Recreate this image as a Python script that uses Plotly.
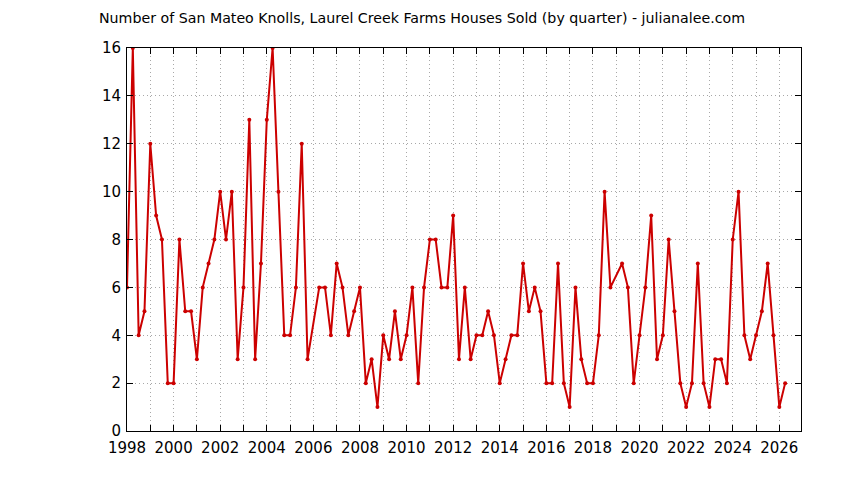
import plotly.graph_objects as go

# quarter start as decimal year (2006.0 and 2019.0 have no sales record)
quarters = [
    1998.0, 1998.25, 1998.5, 1998.75, 1999.0, 1999.25, 1999.5, 1999.75,
    2000.0, 2000.25, 2000.5, 2000.75, 2001.0, 2001.25, 2001.5, 2001.75,
    2002.0, 2002.25, 2002.5, 2002.75, 2003.0, 2003.25, 2003.5, 2003.75,
    2004.0, 2004.25, 2004.5, 2004.75, 2005.0, 2005.25, 2005.5, 2005.75,
    2006.25, 2006.5, 2006.75,
    2007.0, 2007.25, 2007.5, 2007.75, 2008.0, 2008.25, 2008.5, 2008.75,
    2009.0, 2009.25, 2009.5, 2009.75, 2010.0, 2010.25, 2010.5, 2010.75,
    2011.0, 2011.25, 2011.5, 2011.75, 2012.0, 2012.25, 2012.5, 2012.75,
    2013.0, 2013.25, 2013.5, 2013.75, 2014.0, 2014.25, 2014.5, 2014.75,
    2015.0, 2015.25, 2015.5, 2015.75, 2016.0, 2016.25, 2016.5, 2016.75,
    2017.0, 2017.25, 2017.5, 2017.75, 2018.0, 2018.25, 2018.5, 2018.75,
    2019.25, 2019.5, 2019.75,
    2020.0, 2020.25, 2020.5, 2020.75, 2021.0, 2021.25, 2021.5, 2021.75,
    2022.0, 2022.25, 2022.5, 2022.75, 2023.0, 2023.25, 2023.5, 2023.75,
    2024.0, 2024.25, 2024.5, 2024.75, 2025.0, 2025.25, 2025.5, 2025.75,
    2026.0, 2026.25,
]
sold = [
    6, 16, 4, 5, 12, 9, 8, 2,
    2, 8, 5, 5, 3, 6, 7, 8,
    10, 8, 10, 3, 6, 13, 3, 7,
    13, 16, 10, 4, 4, 6, 12, 3,
    6, 6, 4,
    7, 6, 4, 5, 6, 2, 3, 1,
    4, 3, 5, 3, 4, 6, 2, 6,
    8, 8, 6, 6, 9, 3, 6, 3,
    4, 4, 5, 4, 2, 3, 4, 4,
    7, 5, 6, 5, 2, 2, 7, 2,
    1, 6, 3, 2, 2, 4, 10, 6,
    7, 6, 2,
    4, 6, 9, 3, 4, 8, 5, 2,
    1, 2, 7, 2, 1, 3, 3, 2,
    8, 10, 4, 3, 4, 5, 7, 4,
    1, 2,
]
year_ticks = list(range(1998, 2027, 2))

fig = go.Figure(go.Scatter(
    x=quarters, y=sold,
    mode="lines+markers",
    line=dict(color="#cc0000", width=2),
    marker=dict(color="#cc0000", size=4),
    hoverinfo="x+y",
))

grid_style = dict(showgrid=True, gridcolor="#a8a8a8", griddash="1px,3px", gridwidth=1)

axis_common = dict(
    showline=True, linecolor="black", linewidth=1, mirror="ticks",
    ticks="inside", ticklen=6, tickcolor="black",
    zeroline=False,
    tickfont=dict(family="DejaVu Sans", size=15, color="black"),
    **grid_style,
)

fig.update_xaxes(
    range=[1998, 2026.93],
    tickvals=year_ticks,
    ticktext=[str(y) for y in year_ticks],
    ticklabelstandoff=3,
    minor=dict(dtick=1, tick0=1998, ticks="inside", ticklen=6, tickcolor="black", **grid_style),
    **axis_common,
)
fig.update_yaxes(range=[0, 16], dtick=2, ticklabelstandoff=2, **axis_common)

# the page adds an 8px body margin, so margins are trimmed by that much
fig.update_layout(
    width=844, height=480,
    plot_bgcolor="white", paper_bgcolor="white",
    margin=dict(l=119, r=51, t=40, b=57),
    showlegend=False,
    title=dict(
        text="Number of San Mateo Knolls, Laurel Creek Farms Houses Sold (by quarter) - julianalee.com",
        xref="container", x=91 / 844, xanchor="left",
        yref="container", y=1 - 10 / 480, yanchor="middle",
        font=dict(family="DejaVu Sans", size=14.2, color="black"),
    ),
)

fig.write_html("out.html")
